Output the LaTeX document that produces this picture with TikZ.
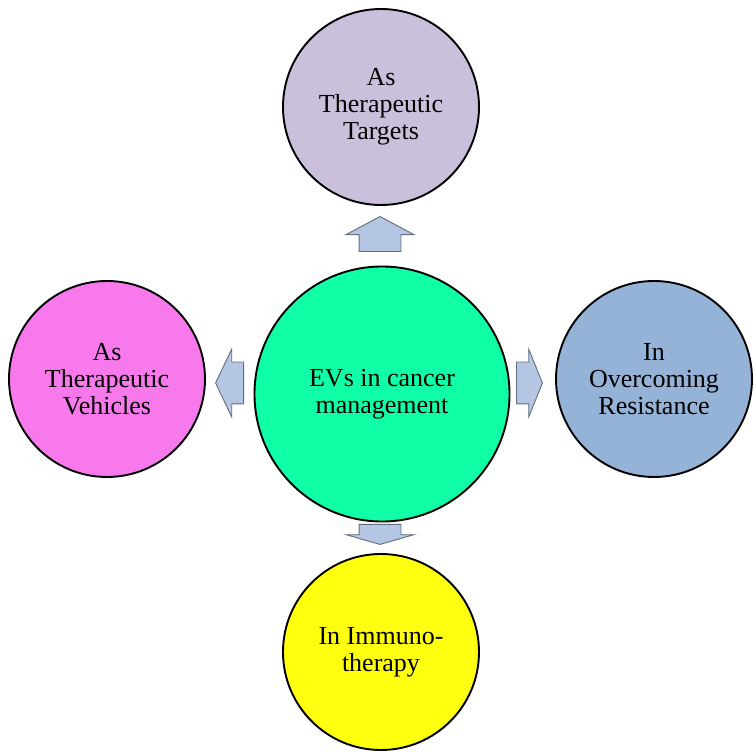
\documentclass[tikz,border=0pt]{standalone}
\usepackage{fontspec}
\setmainfont{Liberation Serif}
\usetikzlibrary{shapes.arrows}

\definecolor{hubgreen}{RGB}{16,255,166}
\definecolor{lavender}{RGB}{203,192,220}
\definecolor{pinkish}{RGB}{248,121,236}
\definecolor{steelblue}{RGB}{149,179,215}
\definecolor{lemon}{RGB}{255,255,16}
\definecolor{arrowfill}{RGB}{180,198,226}
\definecolor{arrowline}{RGB}{98,110,130}

\begin{document}
\begin{tikzpicture}[
  x=1pt, y=1pt,
  topic/.style={circle, draw, line width=1.9pt, align=center,
                font=\fontsize{26}{27}\selectfont, inner sep=0pt,
                minimum size=196pt},
  hub/.style={topic, minimum size=255pt},
  blockarrow/.style={single arrow, draw=arrowline, fill=arrowfill,
                     line width=0.9pt, inner sep=0pt, inner ysep=20.5pt,
                     single arrow head extend=13pt, anchor=tail}
]
\useasboundingbox (0,0) rectangle (756,755);

\node[hub, fill=hubgreen] (evs) at (382,361) {EVs in cancer\\management};
\node[topic, fill=lavender] (targets) at (381,648) {As\\Therapeutic\\Targets};
\node[topic, fill=pinkish] (vehicles) at (107,376) {As\\Therapeutic\\Vehicles};
\node[topic, fill=steelblue] (resist) at (654,376) {In\\Overcoming\\Resistance};
\node[topic, fill=lemon] (immuno) at (381,103) {In Immuno-\\therapy};

% block arrows out of the hub
\node[blockarrow, rotate=90, minimum height=35pt,
      single arrow tip angle=124] (uparr) at (380,503) {};
\node[blockarrow, rotate=180, minimum height=28pt,
      single arrow tip angle=129] (leftarr) at (244,372) {};
\node[blockarrow, minimum height=26pt,
      single arrow tip angle=136] (rightarr) at (516,372) {};
\node[blockarrow, rotate=-90, minimum height=20pt,
      single arrow tip angle=148] (downarr) at (380,231) {};
\end{tikzpicture}
\end{document}
